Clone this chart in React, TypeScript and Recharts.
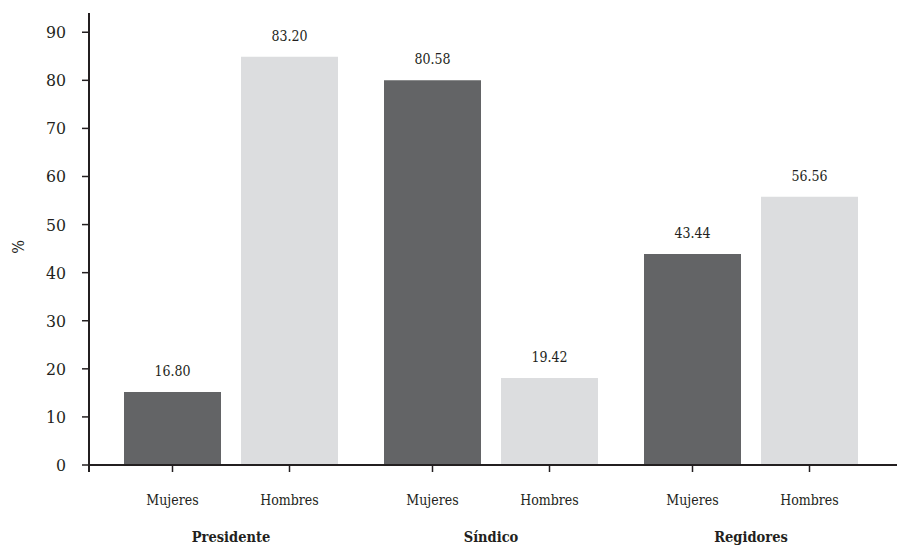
import { Bar, BarChart, LabelList, XAxis, YAxis } from "recharts";

const groups = ["Presidente", "Síndico", "Regidores"];
const subLabels = ["Mujeres", "Hombres"];
// bar heights as drawn in the figure
const mujeres = [15.2, 80.0, 43.9];
const hombres = [84.9, 18.1, 55.8];
// printed value labels
const mujeresLabels = ["16.80", "80.58", "43.44"];
const hombresLabels = ["83.20", "19.42", "56.56"];
const yTicks = [0, 10, 20, 30, 40, 50, 60, 70, 80, 90];

const ink = "#231f20";
const font = "'DejaVu Serif Condensed', 'DejaVu Serif', serif";
const barSize = 97;
const barGap = 20;
const tickMargin = 16;
const tickSize = 7;

const data = groups.map((group, i) => ({
  group,
  mujeres: mujeres[i],
  hombres: hombres[i],
  mujeresLabel: mujeresLabels[i],
  hombresLabel: hombresLabels[i],
}));

function GroupTick({ x, y, payload }: any) {
  const half = (barSize + barGap) / 2;
  return (
    <g>
      {subLabels.map((label, i) => {
        const cx = x + (i === 0 ? -half : half);
        return (
          <g key={label}>
            <line x1={cx} x2={cx} y1={y} y2={y + 7} stroke={ink} strokeWidth={1.5} />
            <text x={cx} y={y + 40} textAnchor="middle" fill={ink} fontSize={14} style={{ fontFamily: font }}>
              {label}
            </text>
          </g>
        );
      })}
      <text x={x} y={y + 77} textAnchor="middle" fill={ink} fontSize={14.5} fontWeight="bold" style={{ fontFamily: font }}>
        {payload.value}
      </text>
    </g>
  );
}

function ValueTick({ x, y, payload }: any) {
  const axisX = x + tickMargin + tickSize;
  return (
    <g>
      <text x={x} y={y} textAnchor="end" dominantBaseline="central" fill={ink} fontSize={17.5} style={{ fontFamily: font }}>
        {payload.value}
      </text>
      {payload.value === 0 && <line x1={axisX} x2={axisX} y1={y} y2={y + 7} stroke={ink} strokeWidth={2} />}
    </g>
  );
}

function PercentLabel({ viewBox }: any) {
  const cx = 18;
  const cy = viewBox.y + viewBox.height / 2 + 8;
  return (
    <text
      x={cx}
      y={cy}
      transform={`rotate(-90 ${cx} ${cy})`}
      textAnchor="middle"
      dominantBaseline="central"
      fill={ink}
      fontSize={16}
      style={{ fontFamily: font }}
    >
      %
    </text>
  );
}

export default function App() {
  return (
    <div style={{ position: "absolute", left: 0, top: 0, background: "#fff" }}>
      <BarChart width={897} height={547} data={data} barGap={barGap} margin={{ top: 13, right: 0, bottom: 12, left: 0 }}>
        <XAxis
          dataKey="group"
          interval={0}
          padding={{ left: 12, right: 16 }}
          height={70}
          axisLine={{ stroke: ink, strokeWidth: 2 }}
          tickLine={false}
          tickSize={0}
          tickMargin={0}
          tick={<GroupTick />}
        />
        <YAxis
          width={89}
          domain={[0, 94]}
          ticks={yTicks}
          interval={0}
          axisLine={{ stroke: ink, strokeWidth: 2 }}
          tickLine={{ stroke: ink, strokeWidth: 1.5 }}
          tickSize={tickSize}
          tickMargin={tickMargin}
          tick={<ValueTick />}
          label={<PercentLabel />}
        />
        <Bar dataKey="mujeres" fill="#636466" barSize={barSize} isAnimationActive={false}>
          <LabelList dataKey="mujeresLabel" position="top" offset={16} fill={ink} fontSize={14} style={{ fontFamily: font }} />
        </Bar>
        <Bar dataKey="hombres" fill="#dcdddf" barSize={barSize} isAnimationActive={false}>
          <LabelList dataKey="hombresLabel" position="top" offset={16} fill={ink} fontSize={14} style={{ fontFamily: font }} />
        </Bar>
      </BarChart>
    </div>
  );
}
